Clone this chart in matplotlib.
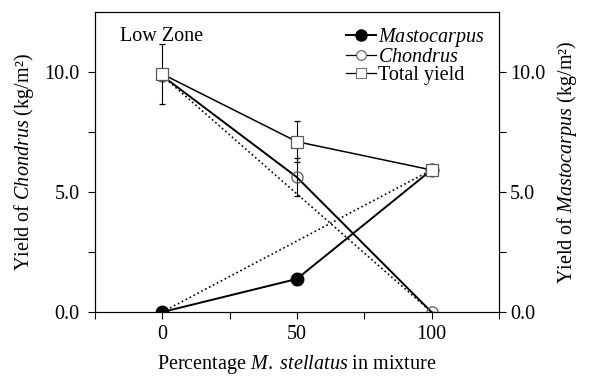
import matplotlib as mpl
import matplotlib.pyplot as plt
from matplotlib.lines import Line2D
import numpy as np

mpl.rcParams['font.family'] = ['Liberation Serif', 'DejaVu Serif']
mpl.rcParams['mathtext.fontset'] = 'custom'
mpl.rcParams['mathtext.rm'] = 'Liberation Serif'
mpl.rcParams['mathtext.it'] = 'Liberation Serif:italic'

# data
pct = [0, 50, 100]
masto = [0.0, 1.38, 5.92]
masto_err = [0.0, 0.25, 0.0]
chond = [9.85, 5.62, 0.0]
chond_err = [0.0, 0.8, 0.0]
total = [9.92, 7.1, 5.92]
total_err = [1.25, 0.85, 0.0]
# expected (monoculture based) lines
exp_x = [0, 100]
exp_chond = [9.85, 0.0]
exp_masto = [0.0, 5.92]

fig = plt.figure(figsize=(5.89, 3.76), dpi=100)
ax = fig.add_axes([0.161, 0.170, 0.686, 0.798])

ax.plot(exp_x, exp_chond, color='k', linestyle=':', linewidth=1.2, zorder=1)
ax.plot(exp_x, exp_masto, color='k', linestyle=':', linewidth=1.2, zorder=1)

ax.errorbar(pct, chond, yerr=chond_err, color='k', linewidth=1.4, elinewidth=0.8,
            capsize=2, capthick=0.8, marker='o', markersize=8, markerfacecolor='none',
            markeredgecolor='0.35', markeredgewidth=0.9, zorder=3)
ax.errorbar(pct, masto, yerr=masto_err, color='k', linewidth=1.4, elinewidth=0.8,
            capsize=2, capthick=0.8, marker='o', markersize=9, markerfacecolor='k',
            markeredgecolor='k', zorder=4)
ax.errorbar(pct, total, yerr=total_err, color='k', linewidth=1.1, elinewidth=0.8,
            capsize=2, capthick=0.8, marker='s', markersize=9, markerfacecolor='white',
            markeredgecolor='0.35', markeredgewidth=0.9, zorder=5)

ax.set_xlim(-25, 125)
ax.set_ylim(0, 12.5)
ax.set_xticks([0, 50, 100])
ax.set_xticks([-25, 25, 75, 125], minor=True)
ax.set_yticks([0, 5, 10])
ax.set_yticks([2.5, 7.5], minor=True)
ax.set_yticklabels(['0.0', '5.0', '10.0'])
ax.tick_params(which='both', direction='out', labelsize=14.5, width=0.8, length=5, pad=4)
ax.tick_params(axis='y', which='both', pad=6)

ax.set_xlabel('Percentage $M.\\ stellatus$ in mixture', fontsize=14.5, labelpad=7)
ax.set_ylabel('Yield of $Chondrus$ (kg/m²)', fontsize=14.5, labelpad=6)

ax2 = ax.twinx()
ax2.set_ylim(0, 12.5)
ax2.set_yticks([0, 5, 10])
ax2.set_yticks([2.5, 7.5], minor=True)
ax2.set_yticklabels(['0.0', '5.0', '10.0'])
ax2.tick_params(which='both', direction='out', labelsize=14.5, width=0.8, length=5, pad=3)
ax2.set_ylabel('Yield of $Mastocarpus$ (kg/m²)', fontsize=14.5, labelpad=7)

ax.text(-15.5, 11.5, 'Low Zone', fontsize=14.5, va='center')

handles = [
    Line2D([], [], color='k', linewidth=1.4, marker='o', markersize=8,
           markerfacecolor='k', markeredgecolor='k'),
    Line2D([], [], color='k', linewidth=0.9, marker='o', markersize=7,
           markerfacecolor='white', markeredgecolor='0.35', markeredgewidth=0.8),
    Line2D([], [], color='k', linewidth=0.9, marker='s', markersize=7,
           markerfacecolor='white', markeredgecolor='0.45', markeredgewidth=0.8),
]
labels = ['$Mastocarpus$', '$Chondrus$', 'Total yield']
ax.legend(handles, labels, loc='upper right', frameon=False, fontsize=14.5,
          handlelength=1.5, handletextpad=0.1, labelspacing=-0.05,
          borderaxespad=0.2, borderpad=0.5)

fig.savefig('out.png', dpi=100)
